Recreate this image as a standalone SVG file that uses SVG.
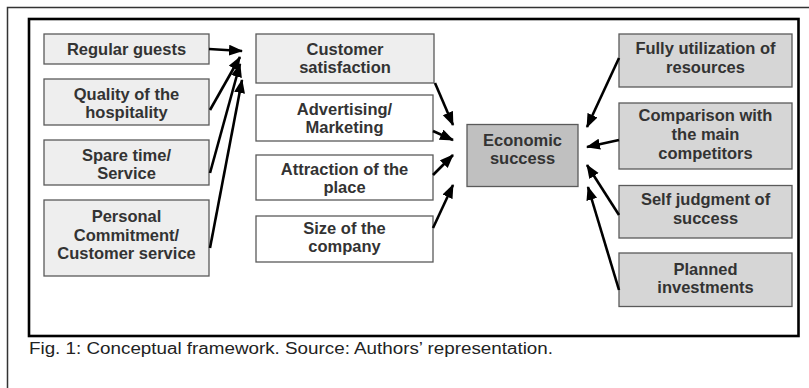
<svg xmlns="http://www.w3.org/2000/svg" width="809" height="388" viewBox="0 0 809 388">
  <style>
    .box { stroke: #5a5a5a; stroke-width: 1.3; }
    .light { fill: #eeeeee; }
    .white { fill: #ffffff; }
    .mid { fill: #d6d6d6; }
    .dark { fill: #c0c0c0; }
    .lbl { font-family: "Liberation Sans", Arial, sans-serif; font-weight: bold; font-size: 16.5px; fill: #333333; text-anchor: middle; }
    .cap { font-family: "Liberation Sans", Arial, sans-serif; font-size: 16px; fill: #222222; }
    .edge { fill: none; stroke: #000000; stroke-width: 2.6; marker-end: url(#head); }
  </style>
  <defs>
    <marker id="head" markerUnits="userSpaceOnUse" markerWidth="15" markerHeight="12" refX="13" refY="5.5" orient="auto">
      <path d="M0,0 L14,5.5 L0,11 Z" fill="#000000"/>
    </marker>
  </defs>
  <rect width="809" height="388" fill="#ffffff"/>

  <!-- page frame (top and left edges) -->
  <path d="M7.5,388 V7.5 H809" fill="none" stroke="#333333" stroke-width="1.5"/>
  <!-- figure frame -->
  <rect x="29" y="19" width="769.5" height="317" fill="none" stroke="#000000" stroke-width="2.6"/>

  <!-- left column -->
  <g id="regular-guests">
    <rect class="box light" x="44" y="34" width="165" height="30"/>
    <text class="lbl" x="126.5" y="55">Regular guests</text>
  </g>
  <g id="quality-hospitality">
    <rect class="box light" x="44" y="79" width="165" height="46"/>
    <text class="lbl" x="126.5" y="100">Quality of the</text>
    <text class="lbl" x="126.5" y="118">hospitality</text>
  </g>
  <g id="spare-time">
    <rect class="box light" x="44" y="140" width="165" height="45"/>
    <text class="lbl" x="126.5" y="160.5">Spare time/</text>
    <text class="lbl" x="126.5" y="178.5">Service</text>
  </g>
  <g id="personal-commitment">
    <rect class="box light" x="44" y="200" width="165" height="76"/>
    <text class="lbl" x="126.5" y="222">Personal</text>
    <text class="lbl" x="126.5" y="240.5">Commitment/</text>
    <text class="lbl" x="126.5" y="259">Customer service</text>
  </g>

  <!-- middle column -->
  <g id="customer-satisfaction">
    <rect class="box light" x="256" y="34" width="178" height="49"/>
    <text class="lbl" x="345" y="54.5">Customer</text>
    <text class="lbl" x="345" y="73">satisfaction</text>
  </g>
  <g id="advertising">
    <rect class="box white" x="256" y="95" width="177" height="46"/>
    <text class="lbl" x="344.5" y="115">Advertising/</text>
    <text class="lbl" x="344.5" y="133">Marketing</text>
  </g>
  <g id="attraction">
    <rect class="box white" x="256" y="155" width="177" height="45"/>
    <text class="lbl" x="344.5" y="175">Attraction of the</text>
    <text class="lbl" x="344.5" y="193">place</text>
  </g>
  <g id="size">
    <rect class="box white" x="256" y="216" width="177" height="46"/>
    <text class="lbl" x="344.5" y="233.5">Size of the</text>
    <text class="lbl" x="344.5" y="251.5">company</text>
  </g>

  <!-- centre -->
  <g id="economic-success">
    <rect class="box dark" x="467" y="124.5" width="111" height="62"/>
    <text class="lbl" x="522.5" y="146">Economic</text>
    <text class="lbl" x="522.5" y="164">success</text>
  </g>

  <!-- right column -->
  <g id="utilization">
    <rect class="box mid" x="619" y="34" width="173" height="53"/>
    <text class="lbl" x="705.5" y="54">Fully utilization of</text>
    <text class="lbl" x="705.5" y="73">resources</text>
  </g>
  <g id="comparison">
    <rect class="box mid" x="619" y="103" width="173" height="66"/>
    <text class="lbl" x="705.5" y="121">Comparison with</text>
    <text class="lbl" x="705.5" y="140">the main</text>
    <text class="lbl" x="705.5" y="158.5">competitors</text>
  </g>
  <g id="self-judgment">
    <rect class="box mid" x="619" y="185.5" width="173" height="52.5"/>
    <text class="lbl" x="705.5" y="205">Self judgment of</text>
    <text class="lbl" x="705.5" y="223.5">success</text>
  </g>
  <g id="planned-investments">
    <rect class="box mid" x="619" y="253" width="173" height="53.5"/>
    <text class="lbl" x="705.5" y="275">Planned</text>
    <text class="lbl" x="705.5" y="293">investments</text>
  </g>

  <!-- connectors -->
  <g id="connectors">
    <line class="edge" x1="209" y1="49" x2="242" y2="51"/>
    <line class="edge" x1="210" y1="110" x2="240" y2="57"/>
    <line class="edge" x1="210" y1="173" x2="240" y2="64"/>
    <line class="edge" x1="210" y1="248" x2="242" y2="80"/>

    <line class="edge" x1="435" y1="83" x2="453" y2="125"/>
    <line class="edge" x1="433" y1="131" x2="453" y2="140"/>
    <line class="edge" x1="433" y1="175" x2="453" y2="155"/>
    <line class="edge" x1="433" y1="228" x2="453" y2="185"/>

    <line class="edge" x1="619" y1="58" x2="587" y2="127"/>
    <line class="edge" x1="619" y1="140" x2="587" y2="147"/>
    <line class="edge" x1="619" y1="215" x2="587" y2="165"/>
    <line class="edge" x1="619" y1="290" x2="588" y2="187"/>
  </g>

  <text class="cap" x="29" y="354" textLength="524" lengthAdjust="spacingAndGlyphs">Fig. 1: Conceptual framework. Source: Authors’ representation.</text>
</svg>
